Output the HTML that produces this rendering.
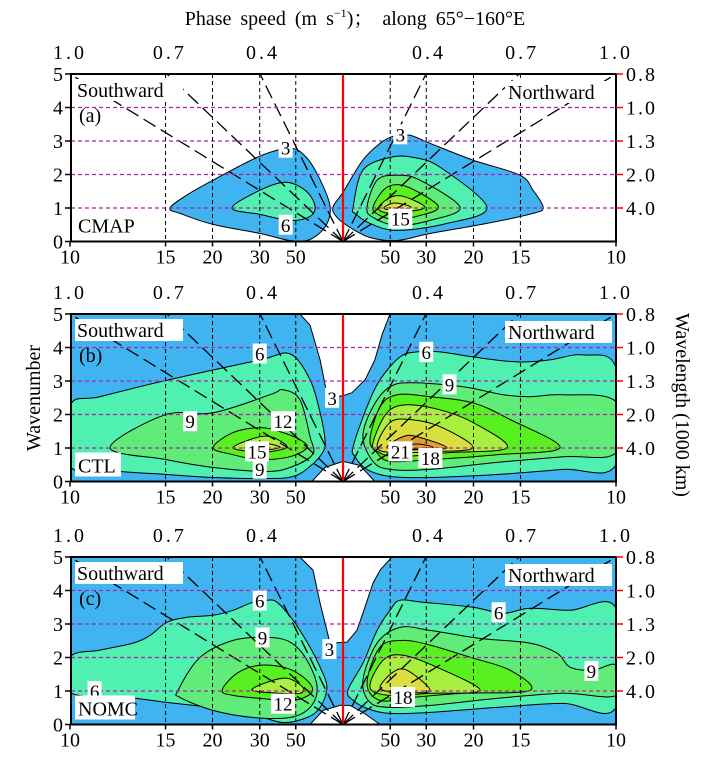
<!DOCTYPE html>
<html><head><meta charset="utf-8"><style>
html,body{margin:0;padding:0;background:#fff;width:710px;height:764px;overflow:hidden}
svg{display:block}
svg text{font-family:"Liberation Serif","DejaVu Serif","Noto Serif CJK SC",serif;fill:#000}
</style></head><body>
<svg id="chart" width="710" height="764" viewBox="0 0 710 764" xmlns="http://www.w3.org/2000/svg" font-family="Liberation Serif, DejaVu Serif, serif">
<text x="355" y="25" font-size="20" text-anchor="middle" word-spacing="4">Phase speed (m s<tspan font-size="12" dy="-8">−1</tspan><tspan dy="8">)； along 65°−160°E</tspan></text>
<text transform="translate(40,398) rotate(-90)" font-size="20" text-anchor="middle">Wavenumber</text>
<text transform="translate(676,405) rotate(90)" font-size="20" text-anchor="middle">Wavelength (1000 km)</text>
</svg>
<script>
// ---------- data ----------
const levels=[3,6,9,12,15,18,21];
const levelColors=['#40b4f0','#50f0b0','#60ec78','#58f020','#a8f040','#d8e040','#e0a030'];
const speedLabels=['10','15','20','30','50'];
const speedPos=[-1,-0.65,-0.478,-0.305,-0.173];
const topLabels=['1.0','0.7','0.4'];
const topPos=[-1,-0.645,-0.304];
const wavenumbers=[0,1,2,3,4,5];
const wavelengthLabels=['4.0','2.0','1.3','1.0','0.8'];
const radialTops=[-1,-0.645,-0.304,0.304,0.645,1];

// panel a (CMAP)
const a3L=[[-0.634,0.99],[-0.579,1.35],[-0.476,1.83],[-0.304,2.55],[-0.194,2.78],[-0.139,2.55],[-0.092,1.98],[-0.048,1.08],[-0.062,0.48],[-0.121,0.06],[-0.194,0.03],[-0.304,0.24],[-0.476,0.51],[-0.597,0.84]];
const a6L=[[-0.407,1],[-0.304,1.53],[-0.212,1.77],[-0.139,1.53],[-0.103,1.08],[-0.121,0.75],[-0.194,0.63],[-0.304,0.81]];
const a3R=[[-0.037,1.02],[0,1.47],[0.073,2.43],[0.136,2.93],[0.183,3.14],[0.245,3.17],[0.319,2.93],[0.476,2.43],[0.648,1.98],[0.696,1.53],[0.733,1.02],[0.696,0.84],[0.527,0.54],[0.319,0.24],[0.198,0.03],[0.099,0.12],[0.026,0.42],[-0.022,0.72]];
const a6R=[[0.037,1.02],[0.073,2.13],[0.172,2.51],[0.256,2.51],[0.355,2.22],[0.527,1.02],[0.381,0.54],[0.198,0.33],[0.099,0.54],[0.044,0.84]];
const a9R=[[0.088,1.02],[0.125,1.83],[0.198,1.98],[0.282,1.83],[0.429,1.02],[0.319,0.63],[0.198,0.48],[0.11,0.72]];
const a12R=[[0.11,1.02],[0.15,1.55],[0.2,1.7],[0.27,1.5],[0.35,1.02],[0.27,0.75],[0.19,0.65],[0.13,0.8]];
const a15R=[[0.13,1.0],[0.17,1.3],[0.22,1.35],[0.3,1.02],[0.22,0.88],[0.16,0.85]];
const a18R=[[0.15,1.0],[0.19,1.15],[0.25,1.02],[0.19,0.93]];

// panel b (CTL)
const b3All=[[-1,0],[-1,5],[1,5],[1,0]];
const bHoleTop=[[-0.158,5],[-0.121,4.67],[-0.084,3.63],[-0.062,2.74],[-0.029,2.53],[0,2.56],[0.033,2.65],[0.081,3.04],[0.117,3.63],[0.143,4.38],[0.172,5]];
const bHoleBot=[[-0.114,0],[-0.066,0.42],[0,0.6],[0.062,0.48],[0.117,0]];
const b6L=[[-1,2.26],[-0.89,2.53],[-0.652,3.01],[-0.304,3.63],[-0.194,3.81],[-0.121,3.04],[-0.084,2.05],[-0.066,1.25],[-0.073,0.89],[-0.121,0.45],[-0.183,0.15],[-0.278,0.09],[-0.476,0.12],[-0.645,0.21],[-0.817,0.3],[-1,0.45]];
const b9L=[[-0.853,1.01],[-0.652,1.99],[-0.476,2.05],[-0.267,2.59],[-0.22,2.74],[-0.158,2.44],[-0.121,1.34],[-0.11,0.83],[-0.183,0.45],[-0.278,0.3],[-0.476,0.42],[-0.645,0.65]];
const b12L=[[-0.476,1.01],[-0.403,1.46],[-0.304,1.61],[-0.231,1.49],[-0.158,1.25],[-0.132,1.01],[-0.194,0.74],[-0.304,0.65],[-0.403,0.8]];
const b15L=[[-0.403,1.01],[-0.33,1.28],[-0.267,1.34],[-0.205,1.04],[-0.267,0.89],[-0.33,0.89]];
const b18L=[[-0.36,1.0],[-0.3,1.15],[-0.23,1.02],[-0.3,0.93]];
const b6R=[[0.037,1.04],[0.088,2.23],[0.136,3.04],[0.209,3.72],[0.271,3.87],[0.355,3.87],[0.476,3.72],[0.637,3.57],[0.758,3.63],[0.879,3.78],[1,3.39],[1,0.51],[0.806,0.36],[0.564,0.21],[0.319,0.12],[0.172,0.15],[0.088,0.36],[0.044,0.74]];
const b9R=[[0.073,1.34],[0.11,2.23],[0.172,2.83],[0.256,2.95],[0.44,2.83],[0.586,2.59],[0.685,2.53],[0.806,2.59],[1,2.38],[1,0.86],[0.806,0.74],[0.564,0.57],[0.319,0.36],[0.172,0.36],[0.11,0.6]];
const b12R=[[0.099,1.25],[0.136,2.23],[0.198,2.59],[0.319,2.53],[0.476,2.35],[0.612,1.85],[0.795,1.01],[0.564,0.8],[0.319,0.65],[0.172,0.6],[0.125,0.86]];
const b15R=[[0.11,1.16],[0.161,2.05],[0.234,2.29],[0.355,2.14],[0.476,1.76],[0.601,1.01],[0.381,0.86],[0.198,0.74],[0.128,0.89]];
const b18R=[[0.125,1.04],[0.172,1.76],[0.245,1.85],[0.355,1.64],[0.476,1.01],[0.319,0.89],[0.183,0.86]];
const b21R=[[0.161,1.04],[0.22,1.34],[0.271,1.34],[0.381,1.01],[0.271,0.95],[0.2,0.95]];
const b24R=[[0.2,1.0],[0.27,1.12],[0.33,1.02],[0.27,0.97]];

// panel c (NOMC)
const c3All=[[-1,0],[-1,5],[1,5],[1,0]];
const cHoleTop=[[-0.158,5],[-0.11,4.61],[-0.084,3.62],[-0.059,2.81],[-0.048,2.43],[0.015,2.46],[0.051,2.81],[0.073,3.32],[0.11,4.22],[0.136,4.61],[0.179,5]];
const cHoleBot=[[-0.121,0],[-0.073,0.42],[-0.011,0.57],[0.026,0.57],[0.073,0.36],[0.136,0]];
const c6L=[[-1,2.01],[-0.89,2.22],[-0.769,2.43],[-0.707,2.66],[-0.645,3.05],[-0.571,3.2],[-0.476,3.26],[-0.403,3.41],[-0.33,3.65],[-0.278,3.71],[-0.242,3.65],[-0.183,3.11],[-0.121,2.31],[-0.084,1.71],[-0.059,1.11],[-0.084,0.51],[-0.132,0.21],[-0.22,0.06],[-0.33,0.3],[-0.476,0.5],[-0.645,0.66],[-0.8,0.82],[-1,0.96]];
const c9L=[[-0.604,1.02],[-0.524,2.0],[-0.403,2.51],[-0.278,2.6],[-0.194,2.46],[-0.132,1.92],[-0.095,1.11],[-0.121,0.51],[-0.194,0.21],[-0.33,0.21],[-0.476,0.42],[-0.597,0.81]];
const c12L=[[-0.443,1.02],[-0.388,1.53],[-0.304,1.77],[-0.205,1.68],[-0.132,1.32],[-0.114,0.96],[-0.183,0.72],[-0.304,0.78],[-0.403,0.87]];
const c15L=[[-0.333,1.02],[-0.278,1.26],[-0.205,1.38],[-0.147,1.11],[-0.158,0.93],[-0.231,0.93]];
const c6R=[[0.018,1.02],[0.073,1.83],[0.125,2.81],[0.172,3.41],[0.209,3.71],[0.293,3.65],[0.476,3.5],[0.586,3.32],[0.685,3.47],[0.832,3.41],[1,3.47],[1,0.51],[0.806,0.63],[0.564,0.51],[0.319,0.36],[0.172,0.33],[0.088,0.48],[0.037,0.72]];
const c9R=[[0.073,1.32],[0.125,2.43],[0.209,2.9],[0.319,2.81],[0.502,2.57],[0.685,2.43],[0.784,2.13],[0.832,1.71],[0.916,1.62],[1,1.77],[1,0.87],[0.806,0.93],[0.564,0.78],[0.319,0.57],[0.172,0.51],[0.099,0.66]];
const c12R=[[0.088,1.23],[0.136,2.31],[0.22,2.51],[0.319,2.37],[0.465,2.01],[0.612,1.62],[0.685,1.02],[0.44,0.93],[0.256,0.81],[0.136,0.72]];
const c15R=[[0.099,1.11],[0.147,1.92],[0.22,2.07],[0.344,1.71],[0.502,1.02],[0.319,0.93],[0.172,0.87]];
const c18R=[[0.136,1.11],[0.183,1.56],[0.234,1.62],[0.319,1.02],[0.234,0.95],[0.183,0.95]];

// contour label positions [s, w, text]
const aLabels=[[-0.21,2.8,'3'],[-0.21,0.5,'6'],[0.21,3.2,'3'],[0.21,0.68,'15']];
const bLabels=[[-0.305,3.82,'6'],[-0.04,2.5,'3'],[-0.56,1.8,'9'],[-0.22,1.8,'12'],[-0.315,0.9,'15'],[-0.305,0.38,'9'],[0.305,3.87,'6'],[0.39,2.9,'9'],[0.21,0.9,'21'],[0.32,0.7,'18']];
const cLabels=[[-0.305,3.7,'6'],[-0.295,2.6,'9'],[-0.05,2.25,'3'],[-0.91,1.0,'6'],[-0.22,0.62,'12'],[0.57,3.35,'6'],[0.91,1.6,'9'],[0.22,0.82,'18']];

const panels=[
 {id:'a',top:74,name:'CMAP',base:null,holes:[],regions:[[0,a3L],[0,a3R],[1,a6L],[1,a6R],[2,a9R],[3,a12R],[4,a15R],[5,a18R]],labels:aLabels},
 {id:'b',top:314,name:'CTL',base:b3All,holes:[bHoleTop,bHoleBot],regions:[[1,b6L],[1,b6R],[2,b9L],[2,b9R],[3,b12L],[3,b12R],[4,b15L],[4,b15R],[5,b18L],[5,b18R],[6,b21R],[6,b24R]],labels:bLabels},
 {id:'c',top:557,name:'NOMC',base:c3All,holes:[cHoleTop,cHoleBot],regions:[[1,c6L],[1,c6R],[2,c9L],[2,c9R],[3,c12L],[3,c12R],[4,c15L],[4,c15R],[5,c18R]],labels:cLabels}
];

// ---------- drawing ----------
const NS='http://www.w3.org/2000/svg';
const svg=document.getElementById('chart');
const X0=343,XS=273,UNIT=33.5,LEFT=71,RIGHT=616;
const xs=s=>X0+s*XS;
function mk(tag,attrs,parent){const e=document.createElementNS(NS,tag);for(const k in attrs)e.setAttribute(k,attrs[k]);(parent||svg).appendChild(e);return e;}
function smoothPath(pts,ys){
  const P=pts.map(p=>[xs(p[0]),ys(p[1])]);const n=P.length;let d='M'+P[0][0].toFixed(1)+','+P[0][1].toFixed(1);
  for(let i=0;i<n;i++){const p0=P[(i-1+n)%n],p1=P[i],p2=P[(i+1)%n],p3=P[(i+2)%n];
    const c1=[p1[0]+(p2[0]-p0[0])/6,p1[1]+(p2[1]-p0[1])/6],c2=[p2[0]-(p3[0]-p1[0])/6,p2[1]-(p3[1]-p1[1])/6];
    d+='C'+c1.map(v=>v.toFixed(1)).join(',')+' '+c2.map(v=>v.toFixed(1)).join(',')+' '+p2[0].toFixed(1)+','+p2[1].toFixed(1);}
  return d+'Z';
}
function polyPath(pts,ys){return 'M'+pts.map(p=>xs(p[0]).toFixed(1)+','+ys(p[1]).toFixed(1)).join('L')+'Z';}

panels.forEach(P=>{
  const top=P.top,bot=top+5*UNIT;const ys=w=>top+(5-w)*UNIT;
  const g=mk('g',{});
  
  
  const cp=mk('clipPath',{id:'clip'+P.id},g);mk('rect',{x:LEFT,y:top,width:RIGHT-LEFT,height:bot-top},cp);
  const cg=mk('g',{'clip-path':'url(#clip'+P.id+')'},g);
  if(P.base){const b=mk('path',{d:polyPath(P.base,ys),fill:levelColors[0]},cg);
    
    }
  P.holes.forEach(h=>{const e=mk('path',{d:polyPath(h,ys),fill:'#fff',stroke:'#000','stroke-width':1,'stroke-linejoin':'round'},cg);
    
    });
  P.regions.forEach(r=>{const e=mk('path',{d:smoothPath(r[1],ys),fill:levelColors[r[0]],stroke:'#000','stroke-width':1},cg);
    
    });
  // grid
  [1,2,3,4].forEach(w=>{const l=mk('line',{x1:LEFT,x2:RIGHT,y1:ys(w),y2:ys(w),stroke:'#b020b0','stroke-width':1.2,'stroke-dasharray':'4 3'},g);
    
    });
  speedPos.forEach((s,i)=>{[s,-s].forEach((v,j)=>{if(Math.abs(v)>=0.99)return;
    const l=mk('line',{x1:xs(v),x2:xs(v),y1:top,y2:bot,stroke:'#000','stroke-width':1,'stroke-dasharray':'4 3'},g);
    
    });});
  // radial dashed lines
  radialTops.forEach(s=>{const l=mk('line',{x1:xs(0),y1:bot,x2:xs(s),y2:top,stroke:'#000','stroke-width':1.3,'stroke-dasharray':'14 6'},cg);
    
    });
  // center red line
  const rl=mk('line',{x1:xs(0),x2:xs(0),y1:top,y2:bot,stroke:'#f00','stroke-width':2.2},g);
  
  
  // contour labels
  P.labels.forEach(L=>{const t=L[2];const w=t.length*10+4;const cx=xs(L[0]),cy=ys(L[1]);
    const r=mk('rect',{x:cx-w/2,y:cy-10,width:w,height:20,fill:'#fff'},g);
    
    
    const tx=mk('text',{x:cx,y:cy+7,'font-size':19,'text-anchor':'middle'},g);tx.textContent=t;
    
    });
  // direction labels
  const sb=mk('rect',{x:75,y:top+5,width:108,height:22,fill:'#fff'},g);
  
  
  const st=mk('text',{x:77,y:top+23,'font-size':20},g);st.textContent='Southward';
  
  
  const nb=mk('rect',{x:505,y:top+7,width:107,height:22,fill:'#fff'},g);
  
  
  const nt=mk('text',{x:508,y:top+25,'font-size':20},g);nt.textContent='Northward';
  
  
  const pt=mk('text',{x:79,y:top+48,'font-size':20},g);pt.textContent='('+P.id+')';
  
  
  const eb=mk('rect',{x:75,y:bot-29,width:P.name.length*14+4,height:24,fill:'#fff'},g);
  
  
  const et=mk('text',{x:78,y:bot-9,'font-size':20},g);et.textContent=P.name;
  
  
  // frame
  const fr=mk('rect',{x:LEFT,y:top,width:RIGHT-LEFT,height:bot-top,fill:'none',stroke:'#000','stroke-width':2},g);
  
  
  // left ticks
  wavenumbers.forEach(w=>{mk('line',{x1:LEFT-6,x2:LEFT,y1:ys(w),y2:ys(w),stroke:'#000','stroke-width':1.5},g);
    const t=mk('text',{x:LEFT-8,y:ys(w)+7,'font-size':20,'text-anchor':'end'},g);t.textContent=w;
    
    });
  // right axis
  wavelengthLabels.forEach((lab,i)=>{const w=i+1;mk('line',{x1:RIGHT,x2:RIGHT+7,y1:ys(w),y2:ys(w),stroke:'#f00','stroke-width':1.5},g);
    const t=mk('text',{x:RIGHT+10,y:ys(w)+7,'font-size':20,'letter-spacing':'2'},g);t.textContent=lab;
    
    });
  // bottom labels
  speedPos.forEach((s,i)=>{[s,-s].forEach(v=>{mk('line',{x1:xs(v),x2:xs(v),y1:bot,y2:bot+5,stroke:'#000','stroke-width':1.5},g);
    const t=mk('text',{x:xs(v),y:bot+22,'font-size':20,'text-anchor':'middle'},g);t.textContent=speedLabels[i];
    
    });});
  // top labels
  topPos.forEach((s,i)=>{[s,-s].forEach(v=>{
    const t=mk('text',{x:xs(v)+(Math.abs(v)<0.99?3:0),y:top-15,'font-size':20,'text-anchor':'middle','letter-spacing':'3'},g);t.textContent=topLabels[i];
    
    });});
});
</script>
</body></html>
